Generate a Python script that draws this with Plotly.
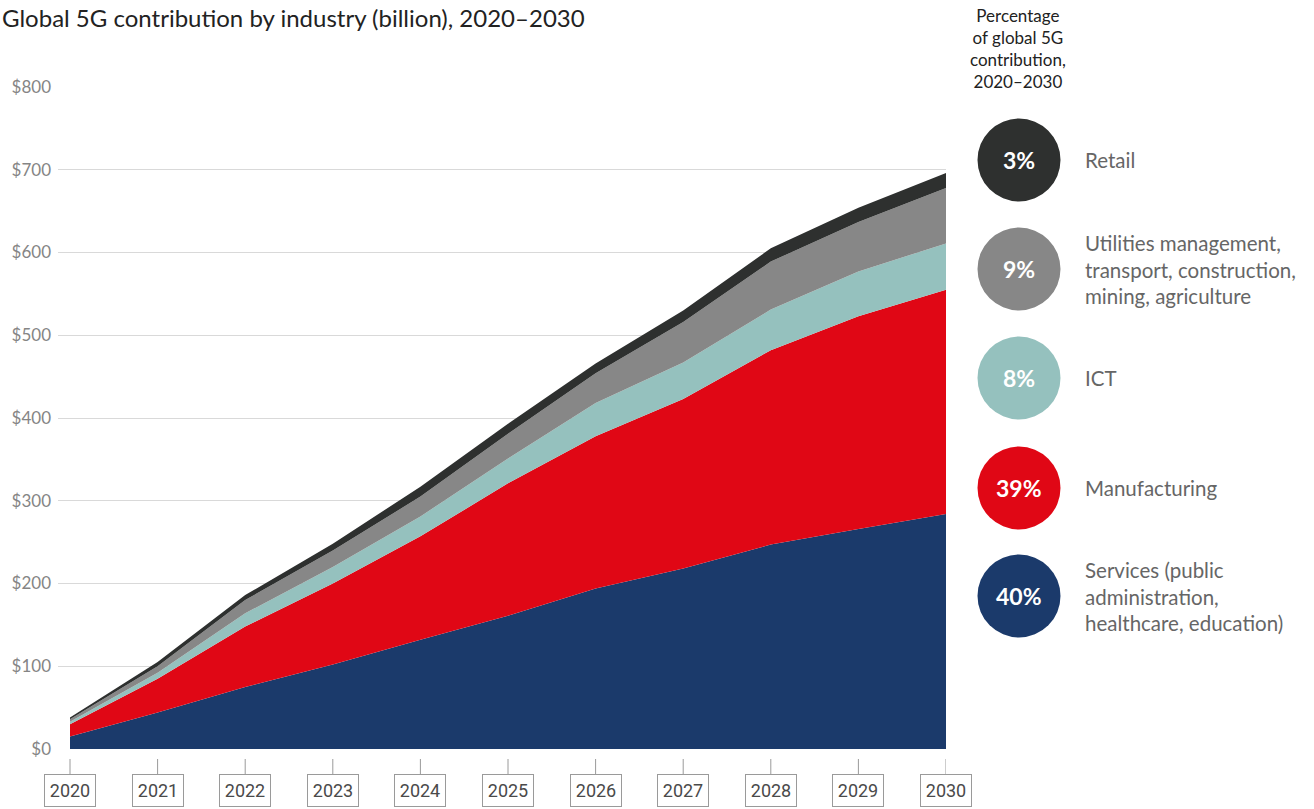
import plotly.graph_objects as go

years = [2020, 2021, 2022, 2023, 2024, 2025, 2026, 2027, 2028, 2029, 2030]

services = [15, 44, 75, 102, 132, 161, 194, 218, 247, 266, 284]
manufacturing = [15, 41, 73, 98, 125, 160, 184, 205, 235, 257, 271]
ict = [3, 7, 16, 20, 24, 30, 40, 44, 49, 54, 56]
utilities = [3, 8, 16, 20, 24, 30, 36, 49, 58, 60, 67]
retail = [2, 5, 6, 8, 12, 12, 12, 14, 16, 17, 18]

series_names = ["Services", "Manufacturing", "ICT", "Utilities", "Retail"]
series_values = [services, manufacturing, ict, utilities, retail]
series_colors = ["#1B3A6B", "#E00715", "#95C1BE", "#878787", "#2E302F"]

# legend (top to bottom)
legend_pcts = ["3%", "9%", "8%", "39%", "40%"]
legend_labels = [
    "Retail",
    "Utilities management,<br>transport, construction,<br>mining, agriculture",
    "ICT",
    "Manufacturing",
    "Services (public<br>administration,<br>healthcare, education)",
]
legend_colors = ["#2E302F", "#878787", "#95C1BE", "#E00715", "#1B3A6B"]

y_ticks = [0, 100, 200, 300, 400, 500, 600, 700, 800]
y_ticktext = ["$" + str(v) for v in y_ticks]

W, H = 1314, 809
L, R, T, B = 58, 946, 87, 749  # plot area in pixels


def px(x):
    return (x - L) / (R - L)


def py(y):
    return (B - y) / (B - T)


fig = go.Figure()
for name, vals, col in zip(series_names, series_values, series_colors):
    fig.add_trace(go.Scatter(
        x=years, y=vals, name=name, mode="lines", stackgroup="one",
        line=dict(width=0, color=col), fillcolor=col, showlegend=False,
    ))

x0 = years[0] - (years[-1] - years[0]) * 12 / (R - L - 12)

annotations = []
shapes = []

# title
annotations.append(dict(
    text="Global 5G contribution by industry (billion), 2020–2030",
    xref="paper", yref="paper", x=px(0), y=py(18), xanchor="left", yanchor="middle",
    showarrow=False, font=dict(family="Lato, Open Sans, sans-serif", size=24, color="#222222"),
))

# legend header
annotations.append(dict(
    text="Percentage<br>of global 5G<br>contribution,<br>2020–2030",
    xref="paper", yref="paper", x=px(1018), y=py(49), xanchor="center", yanchor="middle",
    align="center", showarrow=False,
    font=dict(family="Lato, Open Sans, sans-serif", size=17, color="#222222"),
))

# x tick boxes
for yr in years:
    shapes.append(dict(type="line", xref="x", yref="paper", x0=yr, x1=yr,
                       y0=py(759), y1=py(775), line=dict(color="#9a9a9a", width=1)))
    annotations.append(dict(
        text=str(yr), xref="x", yref="paper", x=yr, y=py(790), xanchor="center", yanchor="middle",
        showarrow=False, width=48, height=29, bordercolor="#9a9a9a", borderwidth=1, borderpad=1,
        bgcolor="white",
        font=dict(family="Liberation Sans Narrow, Roboto, sans-serif", size=18, color="#4a4a4a"),
    ))

# legend circles
centers = [160, 269, 378, 488, 596]
for cy, pct, lab, col in zip(centers, legend_pcts, legend_labels, legend_colors):
    shapes.append(dict(type="circle", xref="paper", yref="paper",
                       xsizemode="pixel", ysizemode="pixel",
                       xanchor=px(1019), yanchor=py(cy),
                       x0=-41.5, x1=41.5, y0=-41.5, y1=41.5,
                       fillcolor=col, line=dict(width=0)))
    annotations.append(dict(
        text="<b>" + pct + "</b>", xref="paper", yref="paper", x=px(1019), y=py(cy),
        xanchor="center", yanchor="middle", showarrow=False,
        font=dict(family="Lato, Open Sans, sans-serif", size=23, color="white"),
    ))
    annotations.append(dict(
        text=lab, xref="paper", yref="paper", x=px(1083), y=py(cy),
        xanchor="left", yanchor="middle", align="left", showarrow=False,
        font=dict(family="Lato, Open Sans, sans-serif", size=20.5, color="#666666"),
    ))

fig.update_layout(
    width=W, height=H,
    margin=dict(l=L, r=W - R, t=T, b=H - B, pad=0),
    paper_bgcolor="white", plot_bgcolor="white",
    xaxis=dict(range=[x0, years[-1]], showgrid=False, zeroline=False, showticklabels=False,
               ticks="", showline=False, fixedrange=True),
    yaxis=dict(range=[0, 800], tickvals=y_ticks, ticktext=y_ticktext, showgrid=True,
               gridcolor="#d9d9d9", gridwidth=1, zeroline=False, showline=False,
               ticks="", ticklabelstandoff=6,
               tickfont=dict(family="Lato, Open Sans, sans-serif", size=17, color="#858585")),
    annotations=annotations, shapes=shapes,
    font=dict(family="Lato, Open Sans, sans-serif"),
)

fig.write_html("out.html", config={"displayModeBar": False},
               post_script="document.body.style.margin='0';document.body.style.overflow='hidden';")
